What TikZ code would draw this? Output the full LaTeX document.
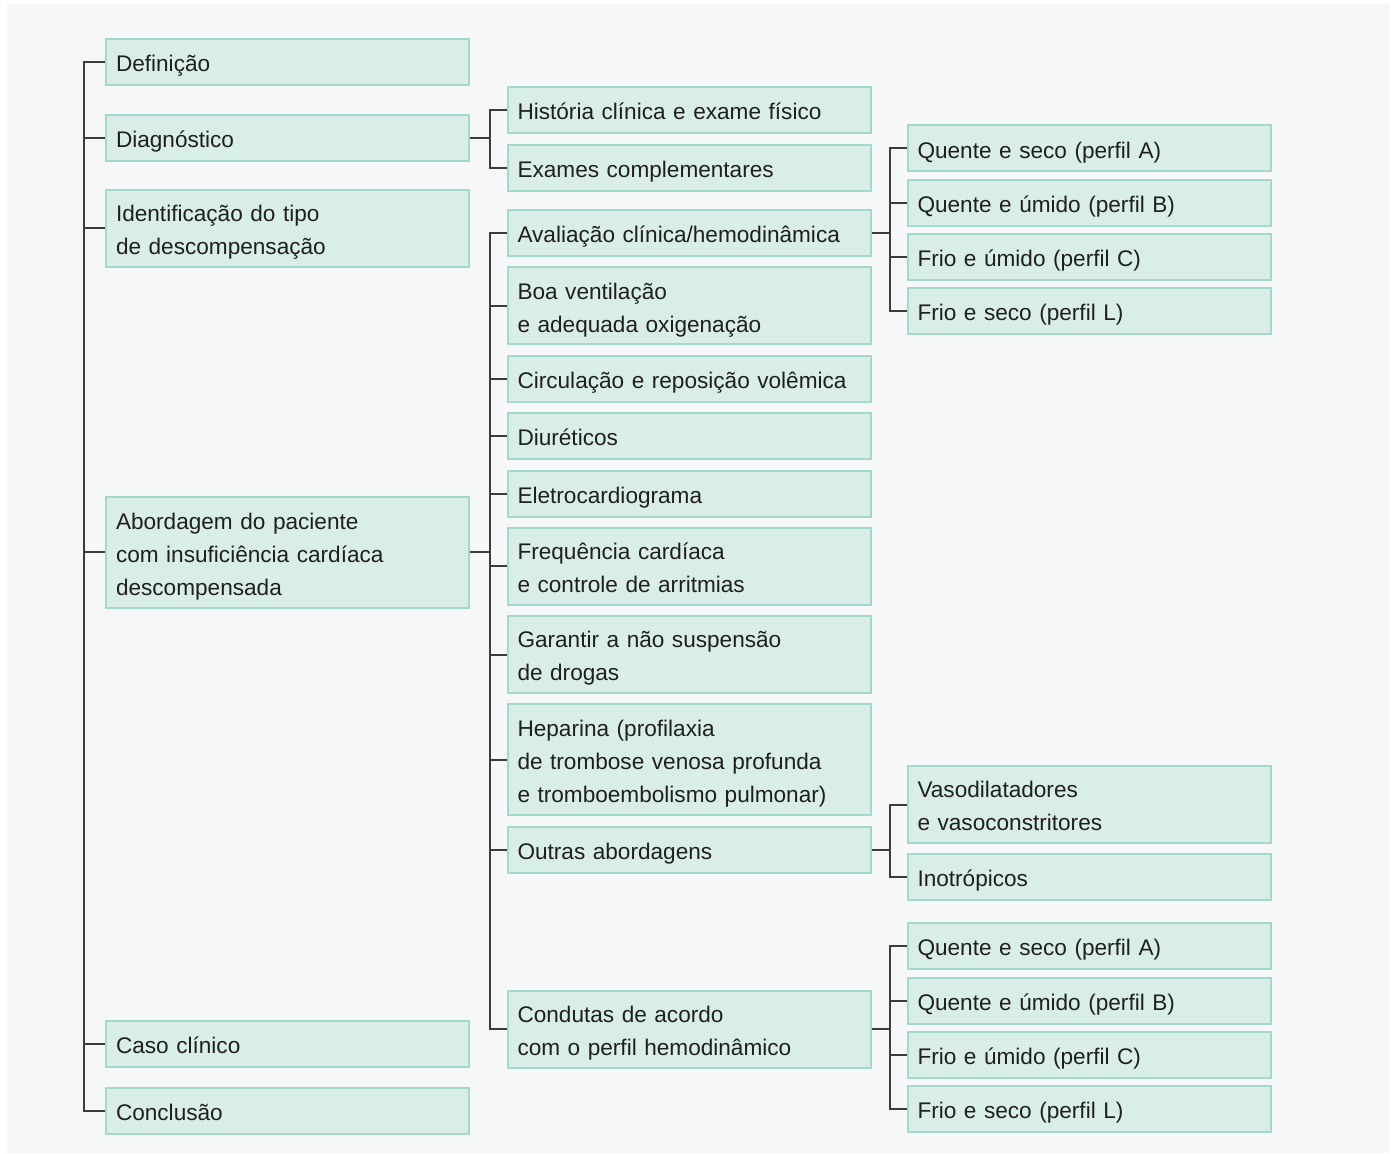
\documentclass[tikz,border=0pt]{standalone}
\usepackage{fontspec}
\setmainfont{Liberation Sans}
\definecolor{boxfill}{HTML}{DAEEE8}
\definecolor{boxline}{HTML}{A3D9CC}
\definecolor{bgpanel}{HTML}{F6F7F9}
\definecolor{linkgray}{HTML}{3C3C3C}
\newcommand{\lowstrut}{\rule[-3.45pt]{0pt}{16.5pt}}
\begin{document}
\begin{tikzpicture}[x=0.5pt,y=-0.5pt]
    \tikzstyle{topic}=[draw=boxline, fill=boxfill, line width=1pt, text width=171.5pt, inner xsep=5pt, inner ysep=0pt, align=left, minimum height=23pt, font=\fontsize{11.3}{16.5}\selectfont, text=black!88, execute at begin node=\lowstrut, execute at end node=\lowstrut]
    \tikzstyle{two}=[minimum height=38.5pt]
    \tikzstyle{three}=[minimum height=55.5pt]
    \tikzstyle{link}=[draw=linkgray, line width=1pt]
    \useasboundingbox (0,0) rectangle (1397,1154);
    \fill[white] (0,0) rectangle (1397,1154);
    \fill[bgpanel] (7,4) rectangle (1390,1153);
    % first column
    \node[topic] (def) at (287.5,62){Definição};
    \node[topic] (diag) at (287.5,138){Diagnóstico};
    \node[topic,two] (ident) at (287.5,228.5){Identificação do tipo\\de descompensação};
    \node[topic,three] (abord) at (287.5,552.5){Abordagem do paciente\\com insuficiência cardíaca\\descompensada};
    \node[topic] (caso) at (287.5,1043.5){Caso clínico};
    \node[topic] (concl) at (287.5,1110.5){Conclusão};
    % second column
    \node[topic] (hist) at (689,110){História clínica e exame físico};
    \node[topic] (exam) at (689,168){Exames complementares};
    \node[topic] (aval) at (689,233){Avaliação clínica/hemodinâmica};
    \node[topic,two] (vent) at (689,306){Boa ventilação\\e adequada oxigenação};
    \node[topic] (circ) at (689,379){Circulação e reposição volêmica};
    \node[topic] (diur) at (689,436){Diuréticos};
    \node[topic] (ecg) at (689,494){Eletrocardiograma};
    \node[topic,two] (freq) at (689,566.5){Frequência cardíaca\\e controle de arritmias};
    \node[topic,two] (drog) at (689,654.5){Garantir a não suspensão\\de drogas};
    \node[topic,three] (hep) at (689,759.5){Heparina (profilaxia\\de trombose venosa profunda\\e tromboembolismo pulmonar)};
    \node[topic] (outr) at (689,849.5){Outras abordagens};
    \node[topic,two] (cond) at (689,1029){Condutas de acordo\\com o perfil hemodinâmico};
    % third column
    \node[topic] (pa) at (1089,148.5){Quente e seco (perfil A)};
    \node[topic] (pb) at (1089,203){Quente e úmido (perfil B)};
    \node[topic] (pc) at (1089,257){Frio e úmido (perfil C)};
    \node[topic] (pl) at (1089,311){Frio e seco (perfil L)};
    \node[topic,two] (vaso) at (1089,804.5){Vasodilatadores\\e vasoconstritores};
    \node[topic] (inot) at (1089,877){Inotrópicos};
    \node[topic] (qa) at (1089,946){Quente e seco (perfil A)};
    \node[topic] (qb) at (1089,1001){Quente e úmido (perfil B)};
    \node[topic] (qc) at (1089,1055){Frio e úmido (perfil C)};
    \node[topic] (ql) at (1089,1109){Frio e seco (perfil L)};
    % brackets
    \draw[link] (def.west) -- ++(-21,0) |- (concl.west);
    \foreach \n in {diag,ident,abord,caso}
      \draw[link] (\n.west) -- ++(-21,0);
    \draw[link] (diag.east) -- ++(19,0);
    \draw[link] (hist.west) -- ++(-17,0) |- (exam.west);
    \draw[link] (abord.east) -- ++(19,0);
    \draw[link] (aval.west) -- ++(-17,0) |- (cond.west);
    \foreach \n in {vent,circ,diur,ecg,freq,drog,hep,outr}
      \draw[link] (\n.west) -- ++(-17,0);
    \draw[link] (aval.east) -- ++(17,0);
    \draw[link] (pa.west) -- ++(-17,0) |- (pl.west);
    \foreach \n in {pb,pc}
      \draw[link] (\n.west) -- ++(-17,0);
    \draw[link] (outr.east) -- ++(17,0);
    \draw[link] (vaso.west) -- ++(-17,0) |- (inot.west);
    \draw[link] (cond.east) -- ++(17,0);
    \draw[link] (qa.west) -- ++(-17,0) |- (ql.west);
    \foreach \n in {qb,qc}
      \draw[link] (\n.west) -- ++(-17,0);
\end{tikzpicture}
\end{document}
